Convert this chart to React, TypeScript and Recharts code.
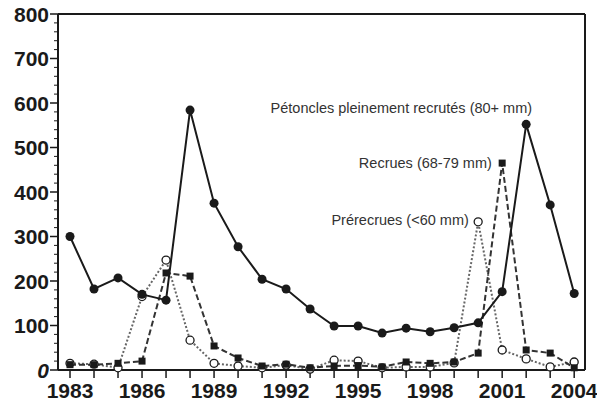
import React from "react";
import {
  LineChart,
  Line,
  XAxis,
  YAxis,
  ReferenceLine,
  ReferenceDot,
} from "recharts";

const YEARS = [
  1983, 1984, 1985, 1986, 1987, 1988, 1989, 1990, 1991, 1992, 1993, 1994,
  1995, 1996, 1997, 1998, 1999, 2000, 2001, 2002, 2003, 2004,
];
// Pétoncles pleinement recrutés (80+ mm)
const PLEINEMENT = [
  300, 182, 207, 170, 157, 584, 375, 277, 204, 182, 137, 99, 99, 83, 94, 86,
  95, 106, 176, 552, 371, 172,
];
// Recrues (68-79 mm)
const RECRUES = [
  12, 12, 15, 20, 218, 211, 54, 27, 9, 13, 5, 9, 10, 7, 18, 15, 18, 38, 465,
  45, 38, 5,
];
// Prérecrues (<60 mm)
const PRERECRUES = [
  15, 13, 5, 165, 247, 67, 15, 9, 5, 11, 2, 22, 20, 5, 7, 7, 16, 333, 45, 25,
  7, 18,
];
const X_LABELED = [1983, 1986, 1989, 1992, 1995, 1998, 2001, 2004];
const Y_LABELED = [0, 100, 200, 300, 400, 500, 600, 700, 800];
const Y_TICKS = Array.from({ length: 41 }, (_, i) => i * 20);

const data = YEARS.map((year, i) => ({
  year,
  pleinement: PLEINEMENT[i],
  recrues: RECRUES[i],
  prerecrues: PRERECRUES[i],
}));

const W = 597;
const H = 408;
const AXIS_X = 58;
const INK = "#1a1a1a";
const FONT = "'Liberation Sans', Arial, sans-serif";

function YTick(props: any) {
  const { y, payload } = props;
  const v = payload.value as number;
  const major = Y_LABELED.includes(v);
  return (
    <g>
      <line
        x1={major ? AXIS_X - 8 : AXIS_X - 4}
        x2={AXIS_X}
        y1={y}
        y2={y}
        stroke={INK}
        strokeWidth={major ? 1.5 : 1}
      />
      {major && (
        <text
          x={AXIS_X - 9}
          y={y}
          dy="0.36em"
          textAnchor="end"
          fontFamily={FONT}
          fontWeight="bold"
          fontSize={21}
          fill={INK}
          fontStyle={v === 0 ? "italic" : "normal"}
        >
          {v}
        </text>
      )}
    </g>
  );
}

function SquareDot(props: any) {
  const { cx, cy } = props;
  if (cx == null || cy == null) return <g />;
  return <rect x={cx - 3.5} y={cy - 3.5} width={7} height={7} fill={INK} />;
}

function OpenDot(props: any) {
  const { cx, cy } = props;
  if (cx == null || cy == null) return <g />;
  return (
    <circle cx={cx} cy={cy} r={4} fill="#fff" stroke={INK} strokeWidth={1.3} />
  );
}

const labelStyle = {
  fontFamily: FONT,
  fontSize: 14.5,
  fill: "#333",
};

export default function App() {
  return (
    <div style={{ position: "absolute", left: 0, top: 0, background: "#fff" }}>
      <LineChart
        width={W}
        height={H}
        data={data}
        margin={{ top: 14, right: 12, left: 0, bottom: 0 }}
      >
        <XAxis
          dataKey="year"
          type="number"
          domain={[1982.5, 2004.45]}
          ticks={YEARS}
          interval={0}
          height={38}
          tickSize={8}
          tickMargin={5}
          axisLine={{ stroke: INK, strokeWidth: 2 }}
          tickLine={{ stroke: INK, strokeWidth: 1.5 }}
          tickFormatter={(v: number) => (X_LABELED.includes(v) ? String(v) : "")}
          tick={{
            fontFamily: FONT,
            fontWeight: "bold",
            fontSize: 21,
            fill: INK,
          }}
        />
        <YAxis
          type="number"
          domain={[0, 800]}
          ticks={Y_TICKS}
          interval={0}
          width={AXIS_X}
          tickLine={false}
          axisLine={{ stroke: INK, strokeWidth: 2 }}
          tick={<YTick />}
        />
        <ReferenceLine y={800} stroke={INK} strokeWidth={2} />
        <ReferenceLine x={2004.45} stroke={INK} strokeWidth={2} />

        <Line
          dataKey="prerecrues"
          stroke="#666"
          strokeWidth={2}
          strokeDasharray="2 2"
          dot={<OpenDot />}
          isAnimationActive={false}
        />
        <Line
          dataKey="recrues"
          stroke="#333"
          strokeWidth={2}
          strokeDasharray="6 3"
          dot={<SquareDot />}
          isAnimationActive={false}
        />
        <Line
          dataKey="pleinement"
          stroke={INK}
          strokeWidth={2}
          dot={{ r: 4.5, fill: INK, stroke: INK, strokeWidth: 0 }}
          isAnimationActive={false}
        />

        <ReferenceDot
          x={1996.8}
          y={589}
          r={0}
          fill="none"
          stroke="none"
          label={{
            value: "Pétoncles pleinement recrutés (80+ mm)",
            position: "center",
            ...labelStyle,
          }}
        />
        <ReferenceDot
          x={1997.8}
          y={465}
          r={0}
          fill="none"
          stroke="none"
          label={{
            value: "Recrues (68-79 mm)",
            position: "center",
            ...labelStyle,
          }}
        />
        <ReferenceDot
          x={1996.75}
          y={337}
          r={0}
          fill="none"
          stroke="none"
          label={{
            value: "Prérecrues (<60 mm)",
            position: "center",
            ...labelStyle,
          }}
        />
      </LineChart>
    </div>
  );
}
